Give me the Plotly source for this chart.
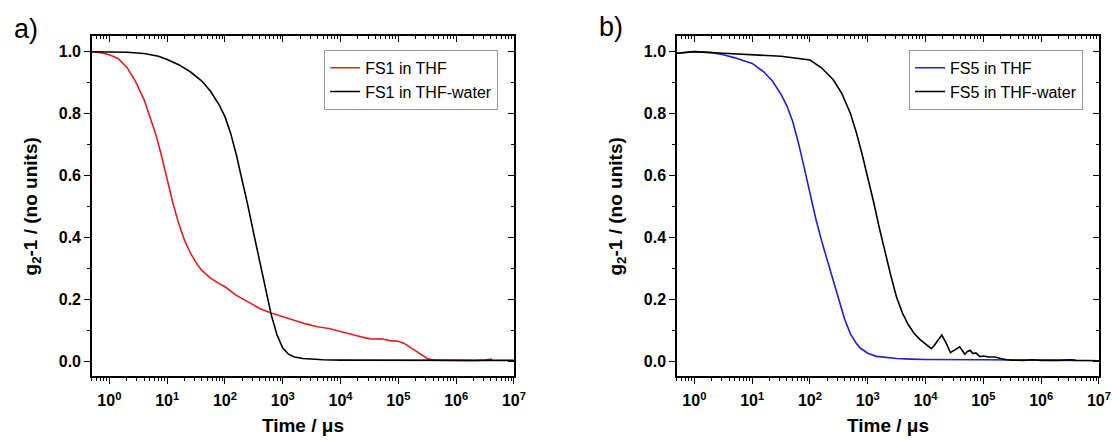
import plotly.graph_objects as go

# ---------------- data ----------------
# time in microseconds, g2-1 values
fs1_thf_t = [0.5, 0.708, 1, 1.41, 2.0, 2.82, 3.98, 5.01, 6.31, 7.94, 10, 12.6, 15.8,
             20.0, 25.1, 31.6, 39.8, 56.2, 79.4, 100, 158, 251, 398, 631, 1000, 1585, 2512,
             3981, 6310, 8913, 12589, 19953, 28184, 35481, 50119, 70795, 1e5, 125893,
             158489, 199526, 251189, 316228, 398107, 630957, 1e6, 1995262, 3162278, 4168694]
fs1_thf_g = [1.0, 0.997, 0.99, 0.978, 0.95, 0.905, 0.845, 0.79, 0.735, 0.665, 0.585, 0.51,
             0.445, 0.39, 0.35, 0.318, 0.293, 0.268, 0.25, 0.24, 0.212, 0.19, 0.17,
             0.155, 0.143, 0.131, 0.12, 0.111, 0.105, 0.098, 0.09, 0.081, 0.074, 0.071,
             0.072, 0.066, 0.064, 0.057, 0.045, 0.032, 0.019, 0.008, 0.003, 0.002, 0.002,
             0.001, 0.003, 0.006]

fs1_wat_t = [0.5, 1, 2.0, 3.98, 7.08, 10, 15.8, 25.1, 39.8, 56.2, 79.4, 100, 126, 158, 200,
             251, 316, 398, 501, 631, 794, 1000, 1259, 1585, 2239, 3162, 5012, 10000, 1e5,
             1e6, 1e7]
fs1_wat_g = [1.0, 0.999, 0.998, 0.994, 0.985, 0.975, 0.958, 0.935, 0.905, 0.872, 0.828,
             0.79, 0.735, 0.665, 0.585, 0.50, 0.41, 0.32, 0.232, 0.15, 0.085, 0.042, 0.022,
             0.013, 0.008, 0.006, 0.004, 0.003, 0.002, 0.002, 0.002]

fs5_thf_t = [0.5, 1, 2.0, 3.16, 5.01, 10, 15.8, 22.4, 31.6, 39.8, 50.1, 63.1, 79.4, 100,
             126, 158, 200, 251, 316, 398, 501, 631, 741, 1000, 1413, 1995, 3162, 5623,
             10000, 1e5, 1e6, 3981072]
fs5_thf_g = [0.995, 1.0, 0.997, 0.99, 0.98, 0.962, 0.935, 0.905, 0.862, 0.825, 0.775, 0.705,
             0.625, 0.54, 0.46, 0.39, 0.325, 0.26, 0.195, 0.135, 0.088, 0.057, 0.042, 0.025,
             0.015, 0.011, 0.008, 0.006, 0.005, 0.004, 0.003, 0.002]

fs5_wat_t = [0.5, 1, 3.16, 10, 31.6, 100, 158, 251, 355, 501, 631, 794, 1000, 1259, 1585,
             1995, 2512, 3162, 3981, 5012, 6310, 7943, 10000, 12589, 14125, 16596, 19055,
             22387, 26915, 31623, 38905, 44668, 47863, 52481, 58884, 66069, 74131, 87096,
             1e5, 125893, 158489, 199526, 251189, 316228, 501187, 707946, 1e6, 1995262,
             3162278, 3981072, 1e7]
fs5_wat_g = [0.995, 1.0, 0.995, 0.99, 0.985, 0.973, 0.948, 0.91, 0.865, 0.80, 0.74, 0.67,
             0.595, 0.515, 0.43, 0.35, 0.275, 0.205, 0.155, 0.118, 0.09, 0.07, 0.054, 0.04,
             0.05, 0.07, 0.084, 0.06, 0.027, 0.035, 0.046, 0.03, 0.022, 0.03, 0.035, 0.024,
             0.026, 0.014, 0.016, 0.013, 0.013, 0.008, 0.004, 0.003, 0.002, 0.004, 0.002,
             0.002, 0.004, 0.002, 0.001]

x_tick_vals = [1, 10, 100, 1e3, 1e4, 1e5, 1e6, 1e7]
x_tick_text = ["10<sup>0</sup>", "10<sup>1</sup>", "10<sup>2</sup>", "10<sup>3</sup>",
               "10<sup>4</sup>", "10<sup>5</sup>", "10<sup>6</sup>", "10<sup>7</sup>"]
y_tick_vals = [0.0, 0.2, 0.4, 0.6, 0.8, 1.0]
y_tick_text = ["0.0", "0.2", "0.4", "0.6", "0.8", "1.0"]
panel_labels = ["a)", "b)"]

# ---------------- styling ----------------
FONT = "Liberation Sans"
RED = "#e41e1e"
BLUE = "#1f1fd6"
BLACK = "#000000"
X_RANGE = [-0.30103, 7]
Y_RANGE = [-0.05, 1.05]
minor_x = [m * 10 ** k for k in range(-1, 7) for m in range(2, 10)]
minor_y = [0.1, 0.3, 0.5, 0.7, 0.9]

xdoms = [[0.0827, 0.4622], [0.6088, 0.9883]]
ydom = [0.1463, 0.9179]

fig = go.Figure()

series = [
    (fs1_thf_t, fs1_thf_g, "FS1 in THF", RED, 0),
    (fs1_wat_t, fs1_wat_g, "FS1 in THF-water", BLACK, 0),
    (fs5_thf_t, fs5_thf_g, "FS5 in THF", BLUE, 1),
    (fs5_wat_t, fs5_wat_g, "FS5 in THF-water", BLACK, 1),
]
for t, g, name, col, p in series:
    fig.add_trace(go.Scatter(
        x=t, y=g, mode="lines", name=name,
        line=dict(color=col, width=1.6),
        xaxis="x" if p == 0 else "x2", yaxis="y" if p == 0 else "y2",
        legend="legend" if p == 0 else "legend2",
    ))

# empty traces for the mirrored (top/right, inside-tick) axes
fig.add_trace(go.Scatter(x=[], y=[], xaxis="x3", yaxis="y3", showlegend=False, hoverinfo="skip"))
fig.add_trace(go.Scatter(x=[], y=[], xaxis="x4", yaxis="y4", showlegend=False, hoverinfo="skip"))

tickfont = dict(family=FONT, size=16, color="black", weight="bold")
titlefont = dict(family=FONT, size=19, color="black", weight="bold")

def main_x(dom, anchor):
    return dict(domain=dom, anchor=anchor, type="log", range=X_RANGE,
                tickmode="array", tickvals=x_tick_vals, ticktext=x_tick_text,
                ticks="outside", ticklen=6, tickwidth=1.2, tickcolor="black",
                ticklabelstandoff=3,
                minor=dict(tickmode="array", tickvals=minor_x, ticks="outside",
                           ticklen=3, tickwidth=1, tickcolor="black"),
                showline=True, linecolor="black", linewidth=1.5, mirror=True,
                showgrid=False, zeroline=False, tickfont=tickfont,
                title=dict(text="<b>Time / μs</b>", font=titlefont, standoff=10),
                automargin=False)

def main_y(dom, anchor):
    return dict(domain=dom, anchor=anchor, range=Y_RANGE,
                tickmode="array", tickvals=y_tick_vals, ticktext=y_tick_text,
                ticks="outside", ticklen=6, tickwidth=1.2, tickcolor="black",
                minor=dict(tickmode="array", tickvals=minor_y, ticks="outside",
                           ticklen=3, tickwidth=1, tickcolor="black"),
                showline=True, linecolor="black", linewidth=1.5, mirror=True,
                showgrid=False, zeroline=False, tickfont=tickfont,
                title=dict(text="<b>g<sub>2</sub>-1 / (no units)</b>", font=titlefont, standoff=16),
                automargin=False)

def over_x(ov, anchor):
    return dict(overlaying=ov, anchor=anchor, side="top", type="log", range=X_RANGE,
                tickmode="array", tickvals=x_tick_vals, showticklabels=False,
                ticks="inside", ticklen=6, tickwidth=1.2, tickcolor="black",
                minor=dict(tickmode="array", tickvals=minor_x, ticks="inside",
                           ticklen=3, tickwidth=1, tickcolor="black"),
                showline=False, showgrid=False, zeroline=False)

def over_y(ov, anchor):
    return dict(overlaying=ov, anchor=anchor, side="right", range=Y_RANGE,
                tickmode="array", tickvals=y_tick_vals, showticklabels=False,
                ticks="inside", ticklen=6, tickwidth=1.2, tickcolor="black",
                minor=dict(tickmode="array", tickvals=minor_y, ticks="inside",
                           ticklen=3, tickwidth=1, tickcolor="black"),
                showline=False, showgrid=False, zeroline=False)

legend_common = dict(font=dict(family=FONT, size=16, color="black"),
                     bgcolor="white", bordercolor="#9a9a9a", borderwidth=1,
                     xanchor="right", yanchor="top", tracegroupgap=0,
                     itemwidth=30)

fig.update_layout(
    width=1112, height=441,
    margin=dict(l=0, r=0, t=0, b=0),
    paper_bgcolor="white", plot_bgcolor="white",
    xaxis=main_x(xdoms[0], "y"),
    yaxis=main_y(ydom, "x"),
    xaxis2=main_x(xdoms[1], "y2"),
    yaxis2=main_y(ydom, "x2"),
    xaxis3=over_x("x", "y"),
    yaxis3=over_y("y", "x"),
    xaxis4=over_x("x2", "y2"),
    yaxis4=over_y("y2", "x2"),
    legend=dict(x=0.448, y=0.887, **legend_common),
    legend2=dict(x=0.974, y=0.887, **legend_common),
    showlegend=True,
    annotations=[
        dict(text=panel_labels[0], x=26 / 1112, y=1 - 29 / 441, xref="paper", yref="paper",
             xanchor="center", yanchor="middle", showarrow=False,
             font=dict(family=FONT, size=27, color="black")),
        dict(text=panel_labels[1], x=611 / 1112, y=1 - 27 / 441, xref="paper", yref="paper",
             xanchor="center", yanchor="middle", showarrow=False,
             font=dict(family=FONT, size=27, color="black")),
    ],
)

fig.write_html("out.html")
